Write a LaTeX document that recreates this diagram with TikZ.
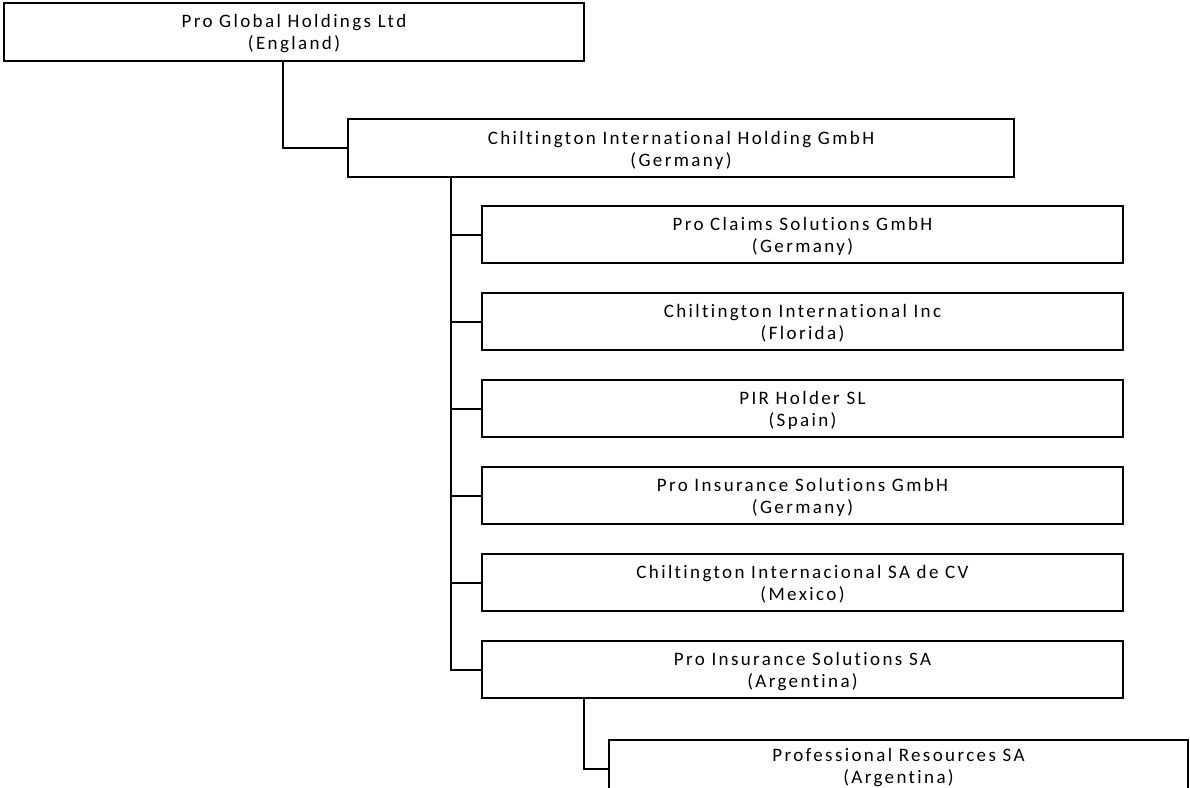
\documentclass[tikz,border=0pt]{standalone}
\usepackage{fontspec}
\newfontfamily\boxfont[LetterSpace=12.5,Ligatures={NoCommon},RawFeature={-liga}]{Carlito}
\begin{document}
\begin{tikzpicture}[x=1pt,y=-1pt,
  orgbox/.style={draw=black, line width=2pt, fill=white, rectangle, inner sep=0pt},
  boxtext/.style={align=center, inner sep=0pt, font=\boxfont\fontsize{19}{22}\selectfont},
  link/.style={draw=black, line width=2pt}]
\useasboundingbox (0,0) rectangle (1190,787);
\clip (0,0) rectangle (1190,787);

\node[orgbox, minimum width=580pt, minimum height=58pt] (b1) at (294,32) {};
\node[orgbox, minimum width=666pt, minimum height=58pt] (b2) at (681,148) {};

\node[orgbox, minimum width=641pt, minimum height=57pt] (c1) at (802.5,234.5) {};
\node[orgbox, minimum width=641pt, minimum height=57pt] (c2) at (802.5,321.5) {};
\node[orgbox, minimum width=641pt, minimum height=57pt] (c3) at (802.5,408.5) {};
\node[orgbox, minimum width=641pt, minimum height=57pt] (c4) at (802.5,495.5) {};
\node[orgbox, minimum width=641pt, minimum height=57pt] (c5) at (802.5,582.5) {};
\node[orgbox, minimum width=641pt, minimum height=57pt] (c6) at (802.5,669.5) {};
\node[orgbox, minimum width=579pt, minimum height=57pt] (d1) at (898.5,768.5) {};

\node[boxtext] (t1) at ([yshift=-2pt]b1.center) {Pro Global Holdings Ltd\\(England)};
\node[boxtext] (t2) at ([yshift=-2pt]b2.center) {Chiltington International Holding GmbH\\(Germany)};
\node[boxtext] (tc1) at ([yshift=-2pt]c1.center) {Pro Claims Solutions GmbH\\(Germany)};
\node[boxtext] (tc2) at ([yshift=-2pt]c2.center) {Chiltington International Inc\\(Florida)};
\node[boxtext] (tc3) at ([yshift=-2pt]c3.center) {PIR Holder SL\\(Spain)};
\node[boxtext] (tc4) at ([yshift=-2pt]c4.center) {Pro Insurance Solutions GmbH\\(Germany)};
\node[boxtext] (tc5) at ([yshift=-2pt]c5.center) {Chiltington Internacional SA de CV\\(Mexico)};
\node[boxtext] (tc6) at ([yshift=-2pt]c6.center) {Pro Insurance Solutions SA\\(Argentina)};
\node[boxtext] (td1) at ([yshift=1pt]d1.center) {Professional Resources SA\\(Argentina)};

% connectors
\coordinate (k1) at ([xshift=280pt]b1.south west);
\draw[link] (k1) |- (b2.west);

\coordinate (sp) at ([xshift=104pt]b2.south west);
\draw[link] (sp) |- (c6.west);
\foreach \n in {c1,c2,c3,c4,c5} {
  \draw[link] (sp |- \n.west) -- (\n.west);
}

\coordinate (k2) at ([xshift=103pt]c6.south west);
\draw[link] (k2) |- (d1.west);
\end{tikzpicture}
\end{document}
